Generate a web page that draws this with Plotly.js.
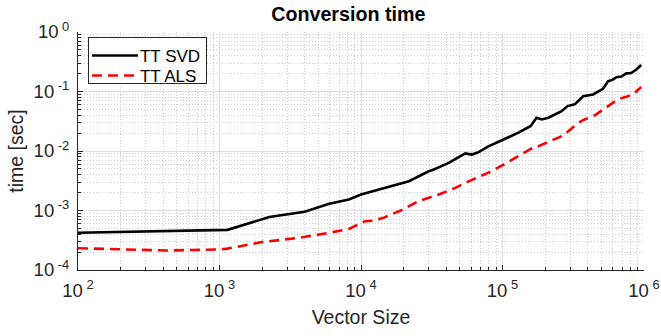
<!DOCTYPE html>
<html>
<head>
<meta charset="utf-8">
<script src="https://cdn.plot.ly/plotly-3.0.1.min.js"></script>
<style>
  html, body { margin: 0; padding: 0; background: #fff; }
  #chart { width: 661px; height: 336px; }
</style>
</head>
<body>
<div id="chart"></div>
<script>
// Conversion time versus vector size for the two TT decompositions
const svdSize = [100, 1140, 2250, 4000, 5960, 8220, 10000, 21800, 30100, 32700, 41700,
  54600, 60800, 67800, 79400, 93300, 100000, 129700, 158500, 173800, 189200, 210900,
  261800, 288400, 323600, 371500, 389000, 436500, 512900, 557200, 602600, 638300,
  691800, 749900, 812800, 883100, 955000];
const svdTime = [4.22e-4, 4.73e-4, 7.76e-4, 9.55e-4, 1.30e-3, 1.53e-3, 1.86e-3, 3.11e-3,
  4.57e-3, 4.90e-3, 6.31e-3, 9.12e-3, 8.71e-3, 9.55e-3, 0.0120, 0.0141, 0.0153, 0.0204,
  0.0263, 0.0363, 0.0339, 0.0363, 0.0468, 0.0569, 0.0608, 0.0832, 0.0851, 0.0891, 0.111,
  0.148, 0.158, 0.174, 0.178, 0.202, 0.204, 0.234, 0.279];

const alsSize = [100, 422, 1000, 1140, 2000, 3630, 5960, 8220, 10700, 12300, 14500,
  19100, 25700, 35500, 46500, 57500, 84100, 98900, 128800, 166000, 179500, 210900,
  261800, 291700, 342800, 380200, 449800, 557200, 656100, 770900, 859000, 955000];
const alsTime = [2.32e-4, 2.13e-4, 2.21e-4, 2.29e-4, 2.95e-4, 3.47e-4, 4.22e-4, 4.90e-4,
  6.61e-4, 6.76e-4, 7.59e-4, 1.0e-3, 1.45e-3, 1.86e-3, 2.40e-3, 3.09e-3, 4.57e-3, 5.70e-3,
  8.18e-3, 0.0116, 0.0120, 0.0141, 0.0178, 0.0215, 0.0297, 0.0339, 0.0398, 0.0569,
  0.0741, 0.0832, 0.0944, 0.119];

const xTickVals = [1e2, 1e3, 1e4, 1e5, 1e6];
const xTickText = ['10<sup> 2</sup>', '10<sup> 3</sup>', '10<sup> 4</sup>', '10<sup> 5</sup>', '10<sup> 6</sup>'];
const yTickVals = [1e-4, 1e-3, 1e-2, 1e-1, 1e0];
const yTickText = ['10<sup> -4</sup>', '10<sup> -3</sup>', '10<sup> -2</sup>', '10<sup> -1</sup>', '10<sup> 0</sup>'];

// minor ticks at 2..9 of every decade
function minorVals(lo, hi) {
  const v = [];
  for (let e = lo; e < hi; e++) {
    for (let m = 2; m <= 9; m++) v.push(m * Math.pow(10, e));
  }
  return v;
}

const FONT = 'Liberation Sans, Arial, Helvetica, sans-serif';
const INK = '#262626';

const traces = [
  {
    x: svdSize, y: svdTime, name: 'TT SVD', type: 'scatter', mode: 'lines',
    line: { color: '#000000', width: 2.6 }
  },
  {
    x: alsSize, y: alsTime, name: 'TT ALS', type: 'scatter', mode: 'lines',
    line: { color: '#ff0000', width: 2.6, dash: '10px,6px' }
  }
];

const minorStyle = {
  ticks: 'inside', ticklen: 3, tickcolor: INK,
  showgrid: true, gridcolor: '#cdcdcd', griddash: '1px,2px', gridwidth: 1
};

const axisCommon = {
  type: 'log',
  showline: true, linecolor: INK, linewidth: 1, mirror: false,
  ticks: 'inside', ticklen: 5, tickwidth: 1, tickcolor: INK,
  showgrid: true, gridcolor: '#dedede', gridwidth: 1,
  zeroline: false,
  tickfont: { family: FONT, size: 18.5, color: INK },
  tickmode: 'array'
};

const layout = {
  width: 661, height: 336,
  margin: { l: 78, r: 17, t: 32, b: 66 },
  paper_bgcolor: '#ffffff', plot_bgcolor: '#ffffff',
  showlegend: true,
  title: {
    text: '<b>Conversion time</b>',
    font: { family: FONT, size: 19.7, color: '#000000' },
    xref: 'container', x: 0.527, xanchor: 'center',
    yref: 'container', y: 0.957, yanchor: 'middle'
  },
  xaxis: Object.assign({}, axisCommon, {
    range: [2, 6],
    tickvals: xTickVals, ticktext: xTickText,
    ticklabelstandoff: 4,
    minor: Object.assign({ tickmode: 'array', tickvals: minorVals(2, 6) }, minorStyle),
    title: { text: 'Vector Size', font: { family: FONT, size: 19.5, color: INK }, standoff: 10 }
  }),
  yaxis: Object.assign({}, axisCommon, {
    range: [-4, 0],
    tickvals: yTickVals, ticktext: yTickText,
    ticklabelstandoff: 4,
    minor: Object.assign({ tickmode: 'array', tickvals: minorVals(-4, 0) }, minorStyle),
    title: { text: 'time [sec]', font: { family: FONT, size: 19.5, color: INK }, standoff: 4 }
  }),
  legend: {
    x: 0.0176, y: 0.979, xanchor: 'left', yanchor: 'top',
    bgcolor: '#ffffff', bordercolor: INK, borderwidth: 1,
    font: { family: FONT, size: 17, color: '#000000' },
    itemwidth: 41,
    tracegroupgap: 0
  }
};

Plotly.newPlot('chart', traces, layout, { staticPlot: true, displayModeBar: false })
  .then(function (gd) {
    // longer legend line samples
    gd.querySelectorAll('.legend .legendlines path').forEach(function (p) {
      p.setAttribute('d', 'M3,0h46');
    });
    // tighter row spacing in the legend box
    const rows = gd.querySelectorAll('.legend .traces');
    const rowStep = 20;
    const re = /translate\(([-\d.]+),\s*([-\d.]+)\)/;
    if (rows.length > 1) {
      const m0 = re.exec(rows[0].getAttribute('transform'));
      if (m0) {
        const y0 = parseFloat(m0[2]);
        rows.forEach(function (r, i) {
          const m = re.exec(r.getAttribute('transform'));
          if (!m) return;
          r.setAttribute('transform', 'translate(' + parseFloat(m[1]) + ',' + (y0 + i * rowStep) + ')');
        });
      }
    }
    const boxH = rows.length * rowStep + 6;
    gd.querySelectorAll('.legend rect.bg, .legend .scrollbox rect').forEach(function (rc) {
      if (rc.getAttribute('height') !== null) rc.setAttribute('height', boxH);
    });
  });
</script>
</body>
</html>
